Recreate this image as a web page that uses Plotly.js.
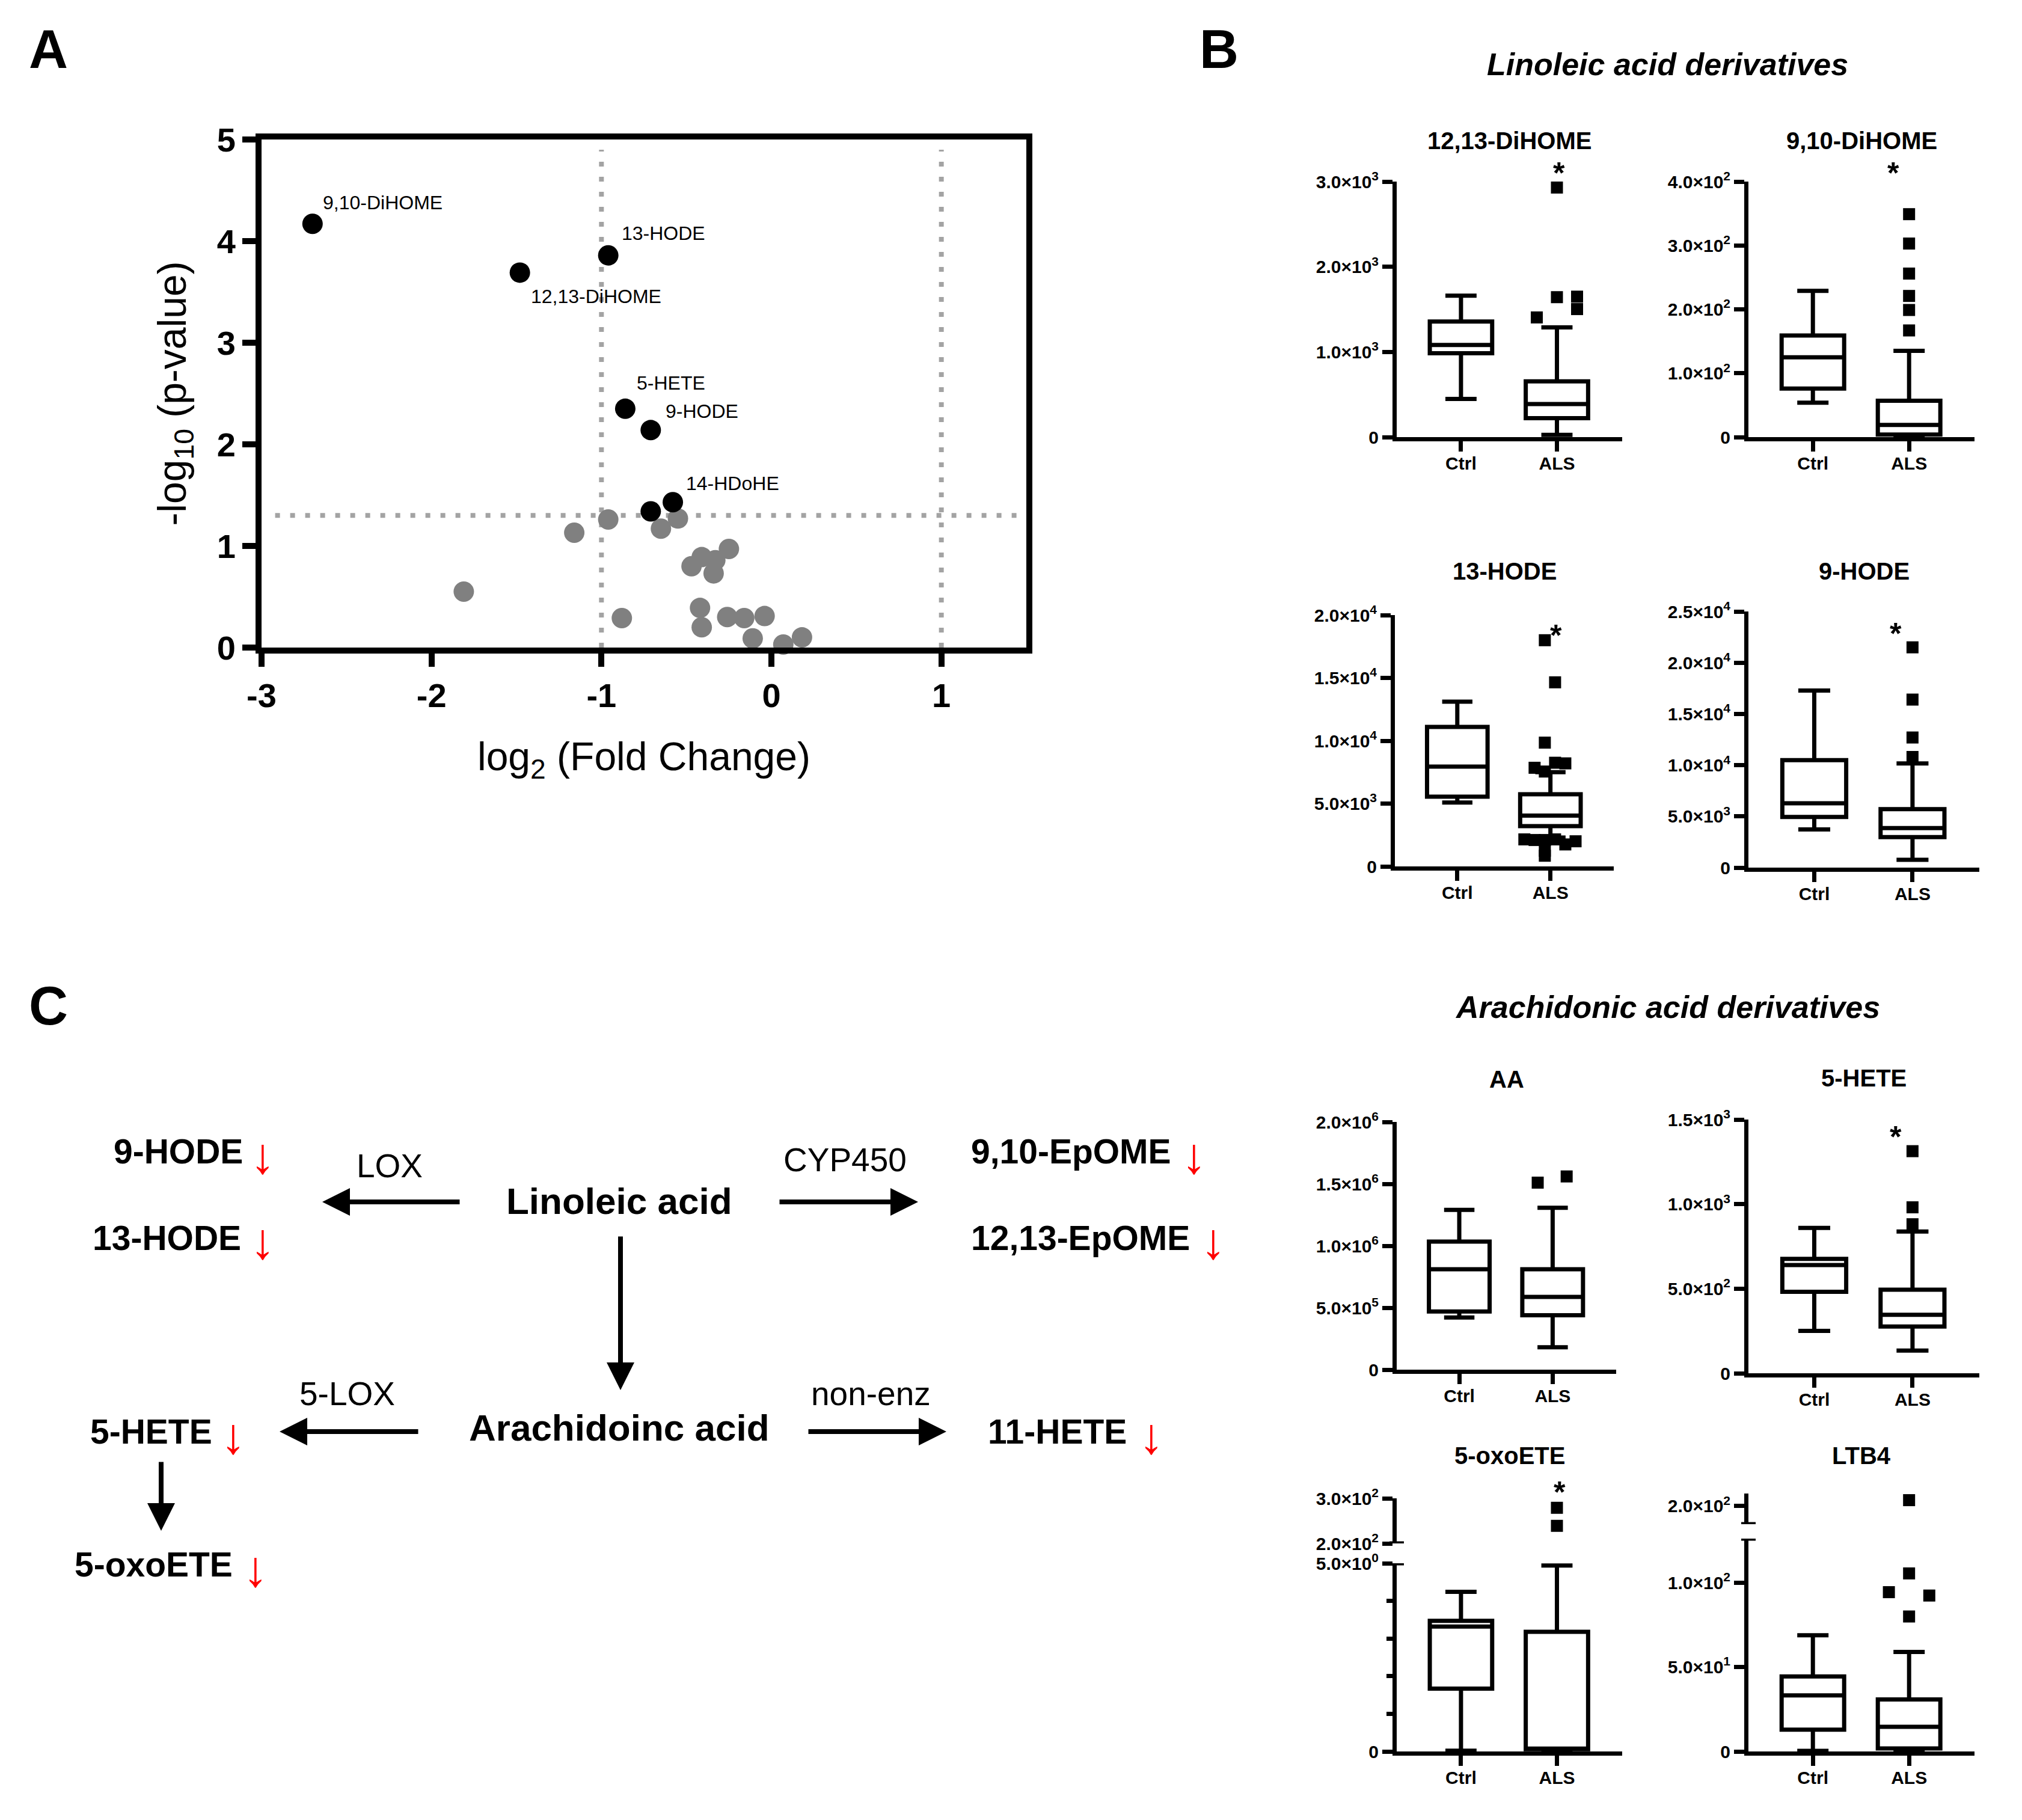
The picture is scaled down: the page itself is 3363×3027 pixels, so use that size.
<!DOCTYPE html>
<html>
<head>
<meta charset="utf-8">
<script src="https://cdn.plot.ly/plotly-3.0.1.min.js"></script>
<style>
html, body { margin: 0; padding: 0; background: #fff; }
#chart { width: 3363px; height: 3027px; }
</style>
</head>
<body>
<div id="chart"></div>
<script>
// ================= DATA =================
const groups = ['Ctrl', 'ALS'];

// Panel A – volcano plot
const sigNames = ['9,10-DiHOME', '12,13-DiHOME', '13-HODE', '5-HETE', '9-HODE', '14-HDoHE', ''];
const sigLog2FC = [-2.70, -1.48, -0.96, -0.86, -0.71, -0.58, -0.71];
const sigNegLog10P = [4.17, 3.69, 3.86, 2.35, 2.14, 1.43, 1.34];
const nsLog2FC = [-1.16, -0.96, -1.81, -0.88, -0.65, -0.55, -0.25, -0.41, -0.33, -0.47, -0.34, -0.42, -0.41, -0.26, -0.16, -0.04, -0.11, 0.07, 0.18];
const nsNegLog10P = [1.13, 1.26, 0.55, 0.29, 1.17, 1.27, 0.97, 0.89, 0.86, 0.80, 0.73, 0.39, 0.20, 0.30, 0.29, 0.31, 0.09, 0.03, 0.10];
const volcanoXTickVals = [-3, -2, -1, 0, 1];
const volcanoXTickText = ['-3', '-2', '-1', '0', '1'];
const volcanoYTickVals = [0, 1, 2, 3, 4, 5];
const volcanoYTickText = ['0', '1', '2', '3', '4', '5'];
const fcCutoffs = [-1, 1];
const pCutoff = 1.3;

// Panel B – box plots: [lowerfence, q1, median, q3, upperfence]
const dihome1213Ctrl = [449, 984, 1081, 1357, 1660];
const dihome1213ALS = [27, 222, 389, 654, 1289];
const dihome1213Out = [2930, 1643, 1649, 1503, 1405];
const dihome1213OutDx = [0, 0, 0.21, 0.21, -0.21];
const dihome1213TickVals = [0, 1000, 2000, 3000];
const dihome1213TickText = ['0', '1.0×10<sup>3</sup>', '2.0×10<sup>3</sup>', '3.0×10<sup>3</sup>'];

const dihome910Ctrl = [54, 76, 125, 159, 229];
const dihome910ALS = [1, 4, 19, 57, 135];
const dihome910Out = [349, 303, 256, 221, 199, 167];
const dihome910OutDx = [0, 0, 0, 0, 0, 0];
const dihome910TickVals = [0, 100, 200, 300, 400];
const dihome910TickText = ['0', '1.0×10<sup>2</sup>', '2.0×10<sup>2</sup>', '3.0×10<sup>2</sup>', '4.0×10<sup>2</sup>'];

const hode13Ctrl = [5080, 5550, 7940, 11100, 13110];
const hode13ALS = [2300, 3200, 4045, 5740, 7500];
const hode13Out = [18000, 14650, 9850, 8250, 8200, 7850, 7550, 2150, 2100, 2100, 2150, 1750, 2000, 1250, 850];
const hode13OutDx = [-0.06, 0.05, -0.06, 0.05, 0.16, -0.17, -0.06, -0.28, -0.17, -0.06, 0.05, 0.16, 0.27, -0.06, -0.06];
const hode13TickVals = [0, 5000, 10000, 15000, 20000];
const hode13TickText = ['0', '5.0×10<sup>3</sup>', '1.0×10<sup>4</sup>', '1.5×10<sup>4</sup>', '2.0×10<sup>4</sup>'];

const hode9Ctrl = [3720, 4950, 6280, 10490, 17280];
const hode9ALS = [770, 2980, 3860, 5700, 10160];
const hode9Out = [21500, 16400, 12700, 10800];
const hode9OutDx = [0, 0, 0, 0];
const hode9TickVals = [0, 5000, 10000, 15000, 20000, 25000];
const hode9TickText = ['0', '5.0×10<sup>3</sup>', '1.0×10<sup>4</sup>', '1.5×10<sup>4</sup>', '2.0×10<sup>4</sup>', '2.5×10<sup>4</sup>'];

const aaCtrl = [421000, 470000, 811000, 1034000, 1290000];
const aaALS = [181000, 439000, 587000, 811000, 1307000];
const aaOut = [1510000, 1560000];
const aaOutDx = [-0.16, 0.15];
const aaTickVals = [0, 500000, 1000000, 1500000, 2000000];
const aaTickText = ['0', '5.0×10<sup>5</sup>', '1.0×10<sup>6</sup>', '1.5×10<sup>6</sup>', '2.0×10<sup>6</sup>'];

const hete5Ctrl = [251, 482, 640, 676, 859];
const hete5ALS = [134, 276, 346, 494, 838];
const hete5Out = [1313, 981, 881];
const hete5OutDx = [0, 0, 0];
const hete5TickVals = [0, 500, 1000, 1500];
const hete5TickText = ['0', '5.0×10<sup>2</sup>', '1.0×10<sup>3</sup>', '1.5×10<sup>3</sup>'];

const oxoete5Ctrl = [0.02, 1.67, 3.32, 3.47, 4.24];
const oxoete5ALS = [0, 0.06, 0.06, 3.18, 4.94];
const oxoete5OutHigh = [279, 239];
const oxoete5OutHighDx = [0, 0];
const oxoete5TickVals = [0, 5];
const oxoete5TickText = ['0', '5.0×10<sup>0</sup>'];
const oxoete5MinorVals = [1, 2, 3, 4];
const oxoete5HighTickVals = [200, 300];
const oxoete5HighTickText = ['2.0×10<sup>2</sup>', '3.0×10<sup>2</sup>'];

const ltb4Ctrl = [0.4, 12.9, 33.2, 44.4, 68.8];
const ltb4ALS = [0.5, 1.8, 14.6, 30.8, 58.9];
const ltb4Out = [105.4, 94.3, 92.3, 79.9];
const ltb4OutDx = [0, -0.21, 0.21, 0];
const ltb4OutHigh = [203.5];
const ltb4OutHighDx = [0];
const ltb4TickVals = [0, 50, 100];
const ltb4TickText = ['0', '5.0×10<sup>1</sup>', '1.0×10<sup>2</sup>'];
const ltb4HighTickVals = [200];
const ltb4HighTickText = ['2.0×10<sup>2</sup>'];

// Panel C – pathway labels
const lipidLabels = ['9-HODE', '13-HODE', '9,10-EpOME', '12,13-EpOME', '5-HETE', '5-oxoETE', '11-HETE'];
const enzymeLabels = ['LOX', 'CYP450', '5-LOX', 'non-enz'];
const parentLabels = ['Linoleic acid', 'Arachidoinc acid'];

// ================= LAYOUT HELPERS =================
const W = 3363, H = 3027;
const FONT = 'Liberation Sans, Arial, Helvetica, sans-serif';
const fx = p => p / W;
const fy = p => 1 - p / H;

const traces = [];
const annotations = [];
const shapes = [];
const layout = {
  width: W, height: H,
  margin: { l: 0, r: 0, t: 0, b: 0 },
  paper_bgcolor: '#ffffff', plot_bgcolor: 'rgba(0,0,0,0)',
  showlegend: false,
  font: { family: FONT, color: '#000000' },
  annotations: annotations, shapes: shapes
};

// ================= PANEL A =================
traces.push({
  type: 'scatter', mode: 'markers', x: nsLog2FC, y: nsNegLog10P,
  marker: { size: 34, color: '#808080' }, cliponaxis: false, hoverinfo: 'skip', xaxis: 'x', yaxis: 'y'
});
traces.push({
  type: 'scatter', mode: 'markers', x: sigLog2FC, y: sigNegLog10P,
  marker: { size: 34, color: '#000000' }, cliponaxis: false, hoverinfo: 'skip', xaxis: 'x', yaxis: 'y'
});
const volcAxis = {
  showline: true, mirror: true, linewidth: 10, linecolor: '#000',
  ticks: 'outside', ticklen: 22, tickwidth: 10, tickcolor: '#000',
  tickfont: { size: 56, weight: 'bold', family: FONT },
  showgrid: false, zeroline: false, fixedrange: true, automargin: false
};
layout.xaxis = Object.assign({}, volcAxis, {
  domain: [fx(435), fx(1707)], anchor: 'y', range: [-3, 1.5],
  tickmode: 'array', tickvals: volcanoXTickVals, ticktext: volcanoXTickText,
  title: { text: 'log<sub>2</sub> (Fold Change)', font: { size: 66, family: FONT }, standoff: 52 }
});
layout.yaxis = Object.assign({}, volcAxis, {
  domain: [fy(1077), fy(232)], anchor: 'x', range: [0, 5],
  tickmode: 'array', tickvals: volcanoYTickVals, ticktext: volcanoYTickText,
  title: { text: '-log<sub>10</sub> (p-value)', font: { size: 66, family: FONT }, standoff: 34 }
});
const dotLine = { color: '#a3a3a3', width: 8, dash: '8px,17px' };
fcCutoffs.forEach(v => shapes.push({ type: 'line', xref: 'x', yref: 'y', x0: v, x1: v, y0: 0, y1: 4.9, line: dotLine, layer: 'below' }));
shapes.push({ type: 'line', xref: 'x', yref: 'y', x0: -2.92, x1: 1.5, y0: pCutoff, y1: pCutoff, line: dotLine, layer: 'below' });

const volcanoLabelShift = [[15, 35], [16, -40], [20, 37], [17, 43], [23, 31], [20, 31]];
sigNames.forEach((n, i) => {
  if (!n) return;
  annotations.push({
    xref: 'x', yref: 'y', x: sigLog2FC[i], y: sigNegLog10P[i], text: n, showarrow: false,
    xanchor: 'left', yanchor: 'middle', xshift: volcanoLabelShift[i][0], yshift: volcanoLabelShift[i][1],
    font: { size: 32, family: FONT }
  });
});

// ================= PANEL B =================
const boxPanels = [
  { title: '12,13-DiHOME', ctrl: dihome1213Ctrl, als: dihome1213ALS, out: dihome1213Out, outDx: dihome1213OutDx,
    tv: dihome1213TickVals, tt: dihome1213TickText, range: [0, 3000], xpx: [2323, 2698], ypx: [302, 727], titleY: 234, star: [0.02, 3180] },
  { title: '9,10-DiHOME', ctrl: dihome910Ctrl, als: dihome910ALS, out: dihome910Out, outDx: dihome910OutDx,
    tv: dihome910TickVals, tt: dihome910TickText, range: [0, 400], xpx: [2908, 3284], ypx: [302, 727], titleY: 234, star: [-0.165, 424] },
  { title: '13-HODE', ctrl: hode13Ctrl, als: hode13ALS, out: hode13Out, outDx: hode13OutDx,
    tv: hode13TickVals, tt: hode13TickText, range: [0, 20000], xpx: [2320, 2684], ypx: [1023, 1441], titleY: 950, star: [0.06, 18950] },
  { title: '9-HODE', ctrl: hode9Ctrl, als: hode9ALS, out: hode9Out, outDx: hode9OutDx,
    tv: hode9TickVals, tt: hode9TickText, range: [0, 25000], xpx: [2908, 3292], ypx: [1017, 1443], titleY: 950, star: [-0.17, 23550] },
  { title: 'AA', ctrl: aaCtrl, als: aaALS, out: aaOut, outDx: aaOutDx,
    tv: aaTickVals, tt: aaTickText, range: [0, 2000000], xpx: [2323, 2688], ypx: [1866, 2278], titleY: 1795, star: null },
  { title: '5-HETE', ctrl: hete5Ctrl, als: hete5ALS, out: hete5Out, outDx: hete5OutDx,
    tv: hete5TickVals, tt: hete5TickText, range: [0, 1500], xpx: [2908, 3292], ypx: [1862, 2284], titleY: 1793, star: [-0.17, 1440] },
  { title: '5-oxoETE', ctrl: oxoete5Ctrl, als: oxoete5ALS, out: [], outDx: [],
    tv: oxoete5TickVals, tt: oxoete5TickText, minor: oxoete5MinorVals, range: [0, 5], xpx: [2323, 2698], ypx: [2600, 2913], titleY: 2421,
    high: { range: [200, 300], ypx: [2492, 2567], tv: oxoete5HighTickVals, tt: oxoete5HighTickText, out: oxoete5OutHigh, outDx: oxoete5OutHighDx, capLow: true },
    capTop: true, starHigh: [0.03, 330] },
  { title: 'LTB4', ctrl: ltb4Ctrl, als: ltb4ALS, out: ltb4Out, outDx: ltb4OutDx,
    tv: ltb4TickVals, tt: ltb4TickText, range: [0, 126], xpx: [2908, 3284], ypx: [2559, 2913], titleY: 2421,
    high: { range: [189.4, 207.4], ypx: [2484, 2535], tv: ltb4HighTickVals, tt: ltb4HighTickText, out: ltb4OutHigh, outDx: ltb4OutHighDx, capLow: true },
    capTop: true, star: null }
];

const boxLine = 7;
const xRange = [-0.67, 1.68];
let extraY = 10;
boxPanels.forEach((p, i) => {
  const n = i + 2;
  const xa = 'x' + n, ya = 'y' + n;
  const stat = k => [p.ctrl[k], p.als[k]];
  traces.push({
    type: 'box', x: [0, 1], lowerfence: stat(0), q1: stat(1), median: stat(2), q3: stat(3), upperfence: stat(4),
    width: 0.65, whiskerwidth: 0.5, boxpoints: false,
    line: { color: '#000', width: boxLine }, fillcolor: '#ffffff',
    xaxis: xa, yaxis: ya, hoverinfo: 'skip'
  });
  if (p.out.length) {
    traces.push({
      type: 'scatter', mode: 'markers', x: p.out.map((v, j) => 1 + p.outDx[j]), y: p.out,
      marker: { symbol: 'square', size: 20, color: '#000' }, cliponaxis: false, xaxis: xa, yaxis: ya, hoverinfo: 'skip'
    });
  }
  layout['xaxis' + n] = {
    domain: [fx(p.xpx[0]), fx(p.xpx[1])], anchor: ya, range: xRange,
    tickmode: 'array', tickvals: [0, 1], ticktext: groups,
    showline: true, linewidth: boxLine, linecolor: '#000',
    ticks: 'outside', ticklen: 17, tickwidth: boxLine, tickcolor: '#000',
    ticklabelstandoff: -6,
    tickfont: { size: 30, weight: 'bold', family: FONT },
    showgrid: false, zeroline: false, fixedrange: true, automargin: false
  };
  const yax = {
    domain: [fy(p.ypx[1]), fy(p.ypx[0])], anchor: xa, range: p.range,
    tickmode: 'array', tickvals: p.tv, ticktext: p.tt,
    showline: true, linewidth: boxLine, linecolor: '#000',
    ticks: 'outside', ticklen: 17, tickwidth: boxLine, tickcolor: '#000',
    tickfont: { size: 30, weight: 'bold', family: FONT },
    showgrid: false, zeroline: false, fixedrange: true, automargin: false
  };
  if (p.minor) {
    yax.minor = { tickmode: 'array', tickvals: p.minor, ticks: 'outside', ticklen: 10, tickwidth: boxLine, tickcolor: '#000', showgrid: false };
  }
  layout['yaxis' + n] = yax;

  // subplot title
  annotations.push({
    xref: 'paper', yref: 'paper', x: fx((p.xpx[0] + p.xpx[1]) / 2), y: fy(p.titleY), text: '<b>' + p.title + '</b>',
    showarrow: false, xanchor: 'center', yanchor: 'middle', font: { size: 40, family: FONT }
  });
  // significance star (lower axis)
  if (p.star) {
    annotations.push({
      xref: xa, yref: ya + ' domain', x: 1 + p.star[0], y: (p.star[1] - p.range[0]) / (p.range[1] - p.range[0]),
      text: '<b>*</b>', showarrow: false, xanchor: 'center', yanchor: 'middle', yshift: -12, font: { size: 50, family: FONT }
    });
  }
  // broken axis upper segment
  if (p.high) {
    const m = extraY++;
    const yb = 'y' + m;
    layout['yaxis' + m] = Object.assign({}, yax, {
      domain: [fy(p.high.ypx[1]), fy(p.high.ypx[0])], anchor: xa, range: p.high.range,
      tickvals: p.high.tv, ticktext: p.high.tt, minor: undefined
    });
    traces.push({
      type: 'scatter', mode: 'markers', x: p.high.out.map((v, j) => 1 + p.high.outDx[j]), y: p.high.out,
      marker: { symbol: 'square', size: 20, color: '#000' }, cliponaxis: false, xaxis: xa, yaxis: yb, hoverinfo: 'skip'
    });
    if (p.high.capLow) {
      shapes.push({ type: 'line', xref: xa + ' domain', yref: yb, x0: -0.032, x1: 0.032, y0: p.high.range[0], y1: p.high.range[0],
        line: { color: '#000', width: boxLine } });
    }
    if (p.starHigh) {
      annotations.push({
        xref: xa, yref: yb + ' domain', x: 1 + p.starHigh[0], y: (p.starHigh[1] - p.high.range[0]) / (p.high.range[1] - p.high.range[0]),
        text: '<b>*</b>', showarrow: false, xanchor: 'center', yanchor: 'middle', yshift: -12, font: { size: 50, family: FONT }
      });
    }
  }
  if (p.capTop) {
    shapes.push({ type: 'line', xref: xa + ' domain', yref: ya, x0: -0.032, x1: 0.032, y0: p.range[1], y1: p.range[1],
      line: { color: '#000', width: boxLine } });
  }
});

// section titles
annotations.push({ xref: 'paper', yref: 'paper', x: fx(2773), y: fy(107), text: '<b><i>Linoleic acid derivatives</i></b>',
  showarrow: false, xanchor: 'center', yanchor: 'middle', font: { size: 52, family: FONT } });
annotations.push({ xref: 'paper', yref: 'paper', x: fx(2773), y: fy(1675), text: '<b><i>Arachidonic acid derivatives</i></b>',
  showarrow: false, xanchor: 'center', yanchor: 'middle', font: { size: 52, family: FONT } });

// panel letters
[['A', 80, 82], ['B', 2027, 82], ['C', 80, 1673]].forEach(l => {
  annotations.push({ xref: 'paper', yref: 'paper', x: fx(l[1]), y: fy(l[2]), text: '<b>' + l[0] + '</b>',
    showarrow: false, xanchor: 'center', yanchor: 'middle', font: { size: 90, family: FONT } });
});

// ================= PANEL C (pathway) =================
const txt = (x, y, text, size, anchor, color) => annotations.push({
  xref: 'paper', yref: 'paper', x: fx(x), y: fy(y), text: text, showarrow: false,
  xanchor: anchor, yanchor: 'middle', font: { size: size, family: FONT, color: color || '#000' }
});
const arrow = (x, y, ax, ay) => annotations.push({
  xref: 'paper', yref: 'paper', x: fx(x), y: fy(y), ax: ax, ay: ay, text: '', showarrow: true,
  arrowhead: 2, arrowsize: 1.15, arrowwidth: 8, arrowcolor: '#000', standoff: 0, startstandoff: 0
});
// lipid mediators (left-anchored x, centre y) and the red "decreased" arrow next to each
const lipidPos = [[187, 1915], [152, 2059], [1613, 1915], [1613, 2059], [148, 2381], [122, 2602], [1641, 2381]];
const downPos = [[437, 1922], [437, 2064], [1986, 1922], [2018, 2064], [388, 2388], [425, 2609], [1915, 2388]];
lipidLabels.forEach((l, i) => {
  txt(lipidPos[i][0], lipidPos[i][1], '<b>' + l + '</b>', 57, 'left');
  txt(downPos[i][0], downPos[i][1], '↓', 84, 'center', '#ff0000');
});
const enzymePos = [[648, 1939], [1405, 1929], [577, 2318], [1448, 2318]];
enzymeLabels.forEach((l, i) => txt(enzymePos[i][0], enzymePos[i][1], l, 55, 'center'));
const parentPos = [[1030, 1997], [1030, 2374]];
parentLabels.forEach((l, i) => txt(parentPos[i][0], parentPos[i][1], '<b>' + l + '</b>', 62, 'center'));

arrow(536, 1999, 230, 0);
arrow(1527, 1999, -232, 0);
arrow(1032, 2312, 0, -257);
arrow(465, 2381, 232, 0);
arrow(1574, 2381, -231, 0);
arrow(268, 2546, 0, -116);

Plotly.newPlot('chart', traces, layout, { staticPlot: true, displayModeBar: false });
</script>
</body>
</html>
